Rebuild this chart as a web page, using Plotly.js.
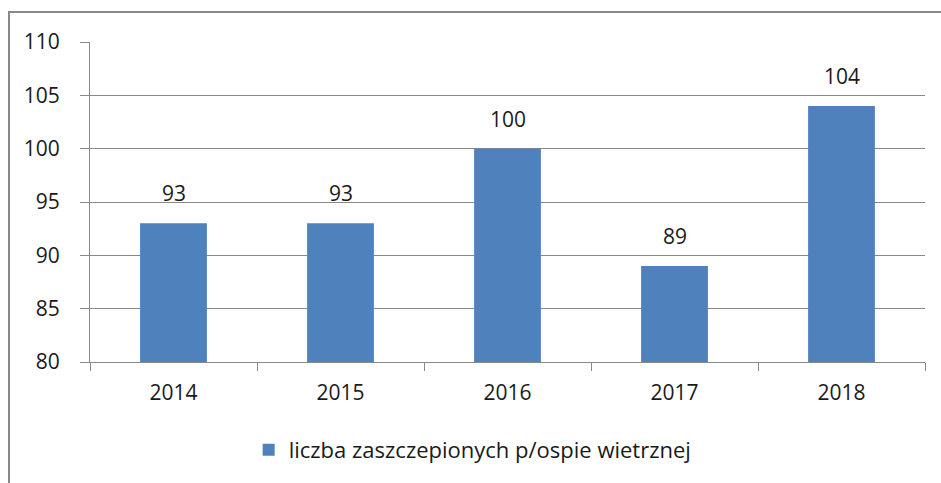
<!DOCTYPE html>
<html><head><meta charset="utf-8">
<script src="https://cdn.plot.ly/plotly-3.0.1.min.js"></script>
<style>html,body{margin:0;padding:0;background:#fff;}#chart{width:941px;height:483px;}</style>
</head><body><div id="chart"></div>
<script>
const years = ['2014', '2015', '2016', '2017', '2018'];
const values = [93, 93, 100, 89, 104];
const seriesName = 'liczba zaszczepionych p/ospie wietrznej';
const yTicks = [80, 85, 90, 95, 100, 105, 110];

const font = {family: 'Open Sans, sans-serif', size: 21, color: '#1a1a1a'};
const legendFont = {family: 'Open Sans, sans-serif', size: 22, color: '#1a1a1a'};
const trace = {
  type: 'bar', x: years, y: values, name: seriesName,
  marker: {color: '#4F81BD'}, width: 0.4, showlegend: true,
  hoverinfo: 'x+y'
};
const annotations = years.map((yr, i) => ({
  x: i, y: values[i], text: String(values[i]), showarrow: false,
  yanchor: 'bottom', yshift: 14, font: font
}));
const layout = {
  width: 941, height: 483,
  margin: {l: 90, r: 16, t: 42, b: 121},
  paper_bgcolor: '#fff', plot_bgcolor: '#fff',
  font: font,
  showlegend: true,
  legend: {orientation: 'h', x: 0.19, xanchor: 'left', y: -0.275, yanchor: 'middle', font: legendFont, itemwidth: 30},
  xaxis: {
    type: 'category', range: [-0.5, 4.5], tickson: 'boundaries', ticks: 'outside', ticklen: 8, tickcolor: '#888', tickwidth: 1,
    showline: true, linecolor: '#888', linewidth: 1, showgrid: false, ticklabelstandoff: 12,
    tickfont: font, tickangle: 0
  },
  yaxis: {
    range: [80, 110], tickvals: yTicks, ticks: 'outside', ticklen: 9, tickcolor: '#888',
    showline: true, linecolor: '#888', linewidth: 1, showgrid: true, gridcolor: '#888', gridwidth: 1,
    zeroline: false, ticklabelstandoff: 16, tickfont: font
  },
  annotations: annotations,
  shapes: [{type: 'rect', xref: 'paper', yref: 'paper', x0: -0.097, x1: 1.2, y0: -0.6, y1: 1.094,
    line: {color: '#888', width: 2}, layer: 'below'}]
};
Plotly.newPlot('chart', [trace], layout, {displayModeBar: false, staticPlot: true});
</script></body></html>
